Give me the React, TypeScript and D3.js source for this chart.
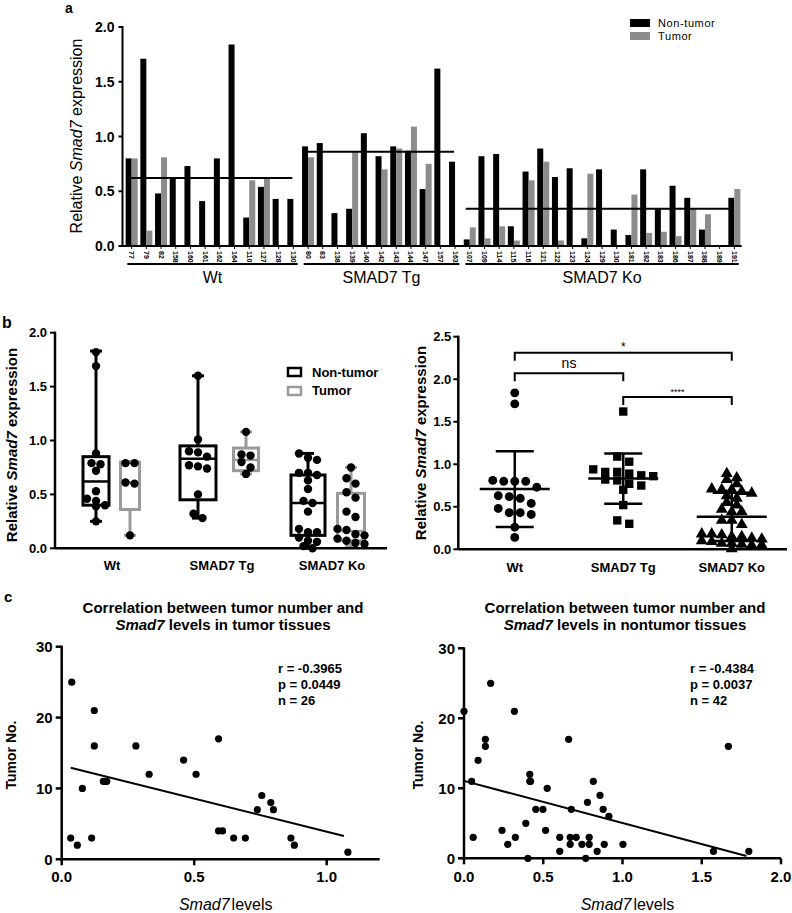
import React from "react";
import * as d3 from "d3";

const FONT = "'Liberation Sans', Arial, Helvetica, sans-serif";
const GRAY = "#8c8c8c";
const BOX_GRAY = "#9a9a9a";

// ---------------- Panel a data ----------------
const sampleIds = [
  "77", "79", "82", "158", "160", "161", "162", "164", "110", "127", "128", "130",
  "80", "83", "138", "139", "140", "142", "143", "144", "147", "157", "163",
  "107", "109", "114", "115", "116", "121", "122", "123", "124", "129", "130", "181", "182", "183", "186", "187", "188", "189", "191",
];
const groupNames = ["Wt", "SMAD7 Tg", "SMAD7 Ko"];
const groupSizes = [12, 11, 19];
const seriesNames = ["Non-tumor", "Tumor"];
const nonTumorExpr = [
  0.80, 1.71, 0.48, 0.63, 0.73, 0.41, 0.80, 1.84, 0.26, 0.54, 0.43, 0.43,
  0.91, 0.94, 0.30, 0.34, 1.03, 0.82, 0.91, 0.87, 0.52, 1.62, 0.77,
  0.06, 0.82, 0.84, 0.18, 0.68, 0.89, 0.63, 0.71, 0.07, 0.70, 0.15, 0.10, 0.70, 0.34, 0.55, 0.44, 0.15, 0.005, 0.44,
];
const tumorExpr: (number | null)[] = [
  0.80, 0.14, 0.81, null, null, null, null, null, 0.60, 0.62, null, null,
  0.81, null, null, 0.86, null, 0.70, 0.89, 1.09, 0.75, null, null,
  0.17, 0.07, 0.18, 0.05, 0.60, 0.77, 0.05, null, 0.66, null, null, 0.47, 0.12, 0.13, 0.09, 0.34, 0.29, null, 0.52,
];
const exprTicksA = [0, 0.5, 1, 1.5, 2];

// ---------------- Panel b (left) box plot data ----------------
const boxNonTumorPoints = [
  [1.82, 1.69, 0.88, 0.79, 0.78, 0.72, 0.53, 0.46, 0.44, 0.40, 0.39, 0.25],
  [1.60, 1.01, 0.90, 0.89, 0.85, 0.77, 0.76, 0.74, 0.50, 0.32, 0.28],
  [0.88, 0.84, 0.82, 0.70, 0.70, 0.68, 0.63, 0.55, 0.44, 0.42, 0.34, 0.18, 0.15, 0.15, 0.10, 0.07, 0.06, 0.02, 0.0],
];
const boxTumorPoints = [
  [0.79, 0.79, 0.61, 0.60, 0.12],
  [1.08, 0.87, 0.86, 0.80, 0.75, 0.69],
  [0.75, 0.65, 0.60, 0.52, 0.47, 0.34, 0.29, 0.18, 0.17, 0.13, 0.12, 0.09, 0.07, 0.05, 0.04],
];
// [min, q1, median, q3, max]
const boxNonTumorStats = [
  [0.25, 0.40, 0.62, 0.85, 1.83],
  [0.28, 0.45, 0.83, 0.95, 1.60],
  [0.0, 0.12, 0.42, 0.68, 0.88],
];
const boxTumorStats = [
  [0.12, 0.36, 0.61, 0.80, 0.80],
  [0.69, 0.72, 0.82, 0.93, 1.08],
  [0.02, 0.07, 0.16, 0.51, 0.75],
];
const exprTicksB = [0, 0.5, 1, 1.5, 2];

// ---------------- Panel b (right) ----------------
const exprTicksC = [0, 0.5, 1, 1.5, 2, 2.5];
const sigFrom = ["Wt", "Wt", "SMAD7 Tg"];
const sigTo = ["SMAD7 Ko", "SMAD7 Tg", "SMAD7 Ko"];
const sigLevel = [2.31, 2.07, 1.79];
const sigLabel = ["*", "ns", "****"];

// ---------------- Panel c data ----------------
const tumorLevels = [0.038, 0.034, 0.059, 0.078, 0.113, 0.123, 0.123, 0.157, 0.17, 0.28, 0.33, 0.46, 0.507, 0.592, 0.592, 0.607, 0.649, 0.693, 0.738, 0.755, 0.789, 0.799, 0.865, 0.878, 1.08, 0.165];
const tumorCounts = [25, 3, 2, 10, 3, 21, 16, 11, 11, 16, 12, 14, 12, 17, 4, 4, 3, 3, 7, 9, 8, 7, 3, 2, 1, 11];
const nontumorLevels = [0, 0.048, 0.058, 0.089, 0.135, 0.135, 0.168, 0.24, 0.276, 0.318, 0.324, 0.39, 0.403, 0.415, 0.415, 0.453, 0.498, 0.525, 0.515, 0.604, 0.604, 0.66, 0.677, 0.67, 0.67, 0.708, 0.744, 0.768, 0.779, 0.79, 0.79, 0.816, 0.84, 0.858, 0.878, 0.885, 0.914, 1.003, 1.574, 1.668, 1.797, 0.42];
const nontumorCounts = [21, 11, 3, 14, 17, 16, 25, 4, 2, 21, 3, 5, 0, 12, 11, 7, 7, 10, 4, 3, 1, 17, 7, 3, 2, 3, 2, 0, 8, 3, 2, 11, 1, 9, 7, 2, 6, 2, 1, 16, 1, 11];
const tumorStats = ["r = -0.3965", "p = 0.0449", "n = 26"];
const nontumorStats = ["r = -0.4384", "p = 0.0037", "n = 42"];
const countTicks = [0, 10, 20, 30];

// ---------------- helpers ----------------
function swarm(values: number[], py: (v: number) => number, spacing: number, rowH: number) {
  const pts = values.map((v) => ({ v, y: py(v) })).sort((a, b) => a.y - b.y);
  const rows: { v: number; y: number }[][] = [];
  for (const p of pts) {
    const r = rows[rows.length - 1];
    if (r && p.y - r[0].y < rowH) r.push(p);
    else rows.push([p]);
  }
  return rows.flatMap((r) => r.map((p, i) => ({ ...p, dx: (i - (r.length - 1) / 2) * spacing })));
}

function groupSlices() {
  const starts = [0, ...Array.from(d3.cumsum(groupSizes))];
  return groupNames.map((g, gi) => ({ g, s: starts[gi], e: starts[gi + 1] }));
}

function groupValues(gi: number) {
  const { s, e } = groupSlices()[gi];
  const nt = nonTumorExpr.slice(s, e);
  const t = tumorExpr.slice(s, e).filter((v): v is number => v != null);
  return [...nt, ...t];
}

const fmt1 = d3.format(".1f");

// ---------------- Panel a ----------------
function PanelA() {
  const x = d3.scaleBand<number>().domain(d3.range(sampleIds.length)).range([124.3, 741.7]);
  const y = d3.scaleLinear().domain([0, 2]).range([246, 27]);
  const bw = 6;
  const c = (i: number) => (x(i) as number) + x.bandwidth() / 2;
  const slices = groupSlices();
  const ax = 122.5;
  return (
    <g>
      <text x={65} y={13} fontSize={14} fontWeight="bold">a</text>
      {nonTumorExpr.map((v, i) => (
        <rect key={"n" + i} x={c(i) - bw} width={bw} y={y(v)} height={y(0) - y(v)} fill="#000" />
      ))}
      {tumorExpr.map((v, i) =>
        v == null ? null : <rect key={"t" + i} x={c(i)} width={bw} y={y(v)} height={y(0) - y(v)} fill={GRAY} />
      )}
      {slices.map((sl, gi) => {
        const m = d3.median(groupValues(gi)) as number;
        return <line key={"m" + gi} x1={c(sl.s) - 4} x2={c(sl.e - 1) - 1} y1={y(m)} y2={y(m)} stroke="#000" strokeWidth={2} />;
      })}
      <line x1={ax} x2={ax} y1={y(2) - 1} y2={y(0) + 1} stroke="#000" strokeWidth={2} />
      <line x1={ax} x2={x.range()[1]} y1={y(0)} y2={y(0)} stroke="#000" strokeWidth={2} />
      {exprTicksA.map((t) => (
        <g key={t}>
          <line x1={ax - 4} x2={ax} y1={y(t)} y2={y(t)} stroke="#000" strokeWidth={2} />
          <text x={ax - 8} y={y(t)} dy="0.36em" textAnchor="end" fontSize={14} fontWeight="bold">{fmt1(t)}</text>
        </g>
      ))}
      {sampleIds.map((id, i) => (
        <g key={"x" + i}>
          <line x1={c(i)} x2={c(i)} y1={y(0)} y2={y(0) + 3} stroke="#000" strokeWidth={1} />
          <text transform={`translate(${c(i)},${y(0) + 5}) rotate(90)`} dy="0.35em" fontSize={7} fontWeight="bold">{id}</text>
        </g>
      ))}
      {slices.map((sl, gi) => {
        const x0 = x(sl.s) as number;
        const x1 = (x(sl.e - 1) as number) + x.bandwidth();
        return (
          <g key={"g" + gi}>
            <line x1={x0 + 3} x2={x1 - 3} y1={264} y2={264} stroke="#000" strokeWidth={2} />
            <text x={(x0 + x1) / 2} y={283} textAnchor="middle" fontSize={16}>{sl.g}</text>
          </g>
        );
      })}
      <text transform="translate(82,136) rotate(-90)" textAnchor="middle" fontSize={16}>
        Relative <tspan fontStyle="italic">Smad7</tspan> expression
      </text>
      {seriesNames.map((s, i) => (
        <g key={s}>
          <rect x={630} y={19 + i * 13} width={20} height={8} fill={i === 0 ? "#000" : GRAY} />
          <text x={658} y={27 + i * 13} fontSize={11} letterSpacing={0.6}>{s}</text>
        </g>
      ))}
    </g>
  );
}

// ---------------- Panel b left ----------------
const BOX_OFF = [[-16, 18], [-24, 24], [-24, 19]];
const BOX_W = [[26, 19], [36, 25], [34, 27]];

function PanelBLeft() {
  const xg = d3.scaleBand<string>().domain(groupNames).range([57, 387]);
  const y = d3.scaleLinear().domain([0, 2]).range([548.3, 332.7]);
  const ax = 55;
  const series = [
    { pts: boxNonTumorPoints, st: boxNonTumorStats, col: "#000" },
    { pts: boxTumorPoints, st: boxTumorStats, col: BOX_GRAY },
  ];
  return (
    <g>
      <text x={2} y={328} fontSize={16} fontWeight="bold">b</text>
      {groupNames.map((g, gi) => {
        const gc = (xg(g) as number) + xg.bandwidth() / 2;
        return series.map((se, si) => {
          const cx = gc + BOX_OFF[gi][si];
          const w = BOX_W[gi][si];
          const [mn, q1, md, q3, mx] = se.st[gi];
          const sw = swarm(se.pts[gi], y, 9, 7);
          return (
            <g key={g + si}>
              <line x1={cx} x2={cx} y1={y(mx)} y2={y(q3)} stroke={se.col} strokeWidth={3} />
              <line x1={cx} x2={cx} y1={y(q1)} y2={y(mn)} stroke={se.col} strokeWidth={3} />
              <line x1={cx - 6} x2={cx + 6} y1={y(mx)} y2={y(mx)} stroke={se.col} strokeWidth={3} />
              <line x1={cx - 6} x2={cx + 6} y1={y(mn)} y2={y(mn)} stroke={se.col} strokeWidth={3} />
              <rect x={cx - w / 2} y={y(q3)} width={w} height={y(q1) - y(q3)} fill="none" stroke={se.col} strokeWidth={3} />
              <line x1={cx - w / 2} x2={cx + w / 2} y1={y(md)} y2={y(md)} stroke={se.col} strokeWidth={2.5} />
              {sw.map((p, k) => (
                <circle key={k} cx={cx + p.dx} cy={p.y} r={4.2} fill="#000" />
              ))}
            </g>
          );
        });
      })}
      <line x1={ax} x2={ax} y1={y(2) - 1} y2={y(0)} stroke="#000" strokeWidth={2.5} />
      <line x1={ax} x2={387} y1={y(0)} y2={y(0)} stroke="#000" strokeWidth={2.5} />
      {exprTicksB.map((t) => (
        <g key={t}>
          <line x1={ax - 5} x2={ax} y1={y(t)} y2={y(t)} stroke="#000" strokeWidth={2} />
          <text x={ax - 8} y={y(t)} dy="0.36em" textAnchor="end" fontSize={13} fontWeight="bold">{fmt1(t)}</text>
        </g>
      ))}
      {groupNames.map((g) => (
        <text key={g} x={(xg(g) as number) + xg.bandwidth() / 2} y={570} textAnchor="middle" fontSize={13} fontWeight="bold">{g}</text>
      ))}
      <text transform="translate(17,445) rotate(-90)" textAnchor="middle" fontSize={15} fontWeight="bold">
        Relative <tspan fontStyle="italic">Smad7</tspan> expression
      </text>
      {seriesNames.map((s, i) => (
        <g key={s}>
          <rect x={288} y={368 + i * 19} width={13} height={8} fill="none" stroke={i === 0 ? "#000" : BOX_GRAY} strokeWidth={2.5} />
          <text x={312} y={377 + i * 18} fontSize={13} fontWeight="bold">{s}</text>
        </g>
      ))}
    </g>
  );
}

// ---------------- Panel b right ----------------
function PanelBRight() {
  const xg = d3.scaleBand<string>().domain(groupNames).range([460.5, 786]);
  const y = d3.scaleLinear().domain([0, 2.5]).range([549.3, 336.7]);
  const ax = 458.3;
  const symbols = [d3.symbolCircle, d3.symbolSquare, d3.symbolTriangle];
  const sizes = [62, 70, 62];
  const spacings = [11, 12, 10];
  const rowHs = [8, 8, 5.5];
  const gc = (g: string) => (xg(g) as number) + xg.bandwidth() / 2;
  return (
    <g>
      {groupNames.map((g, gi) => {
        const vals = groupValues(gi);
        const mean = d3.mean(vals) as number;
        const sd = d3.deviation(vals) as number;
        const cx = gc(g);
        const path = d3.symbol(symbols[gi], sizes[gi])() as string;
        const sw = swarm(vals, y, spacings[gi], rowHs[gi]);
        return (
          <g key={g}>
            {sw.map((p, k) => (
              <path key={k} d={path} transform={`translate(${cx + p.dx},${p.y})`} fill="#000" />
            ))}
            <line x1={cx} x2={cx} y1={y(mean + sd)} y2={y(Math.max(0, mean - sd))} stroke="#000" strokeWidth={2.5} />
            <line x1={cx - 19} x2={cx + 19} y1={y(mean + sd)} y2={y(mean + sd)} stroke="#000" strokeWidth={2.5} />
            <line x1={cx - 19} x2={cx + 19} y1={y(Math.max(0, mean - sd))} y2={y(Math.max(0, mean - sd))} stroke="#000" strokeWidth={2.5} />
            <line x1={cx - 35} x2={cx + 35} y1={y(mean)} y2={y(mean)} stroke="#000" strokeWidth={2.5} />
          </g>
        );
      })}
      {sigLabel.map((lab, i) => {
        const x1 = gc(sigFrom[i]);
        const x2 = gc(sigTo[i]);
        const yy = y(sigLevel[i]);
        return (
          <g key={i}>
            <path d={`M${x1},${yy + 8}V${yy}H${x2}V${yy + 8}`} fill="none" stroke="#000" strokeWidth={2} />
            <text x={(x1 + x2) / 2} y={lab === "ns" ? yy - 5 : yy - 2} textAnchor="middle" fontSize={lab === "ns" ? 14 : lab === "*" ? 12 : 9}>{lab}</text>
          </g>
        );
      })}
      <line x1={ax} x2={ax} y1={y(2.5) - 1} y2={y(0)} stroke="#000" strokeWidth={2.5} />
      <line x1={ax} x2={787} y1={y(0)} y2={y(0)} stroke="#000" strokeWidth={2.5} />
      {exprTicksC.map((t) => (
        <g key={t}>
          <line x1={ax - 5} x2={ax} y1={y(t)} y2={y(t)} stroke="#000" strokeWidth={2} />
          <text x={ax - 7} y={y(t)} dy="0.36em" textAnchor="end" fontSize={13} fontWeight="bold">{fmt1(t)}</text>
        </g>
      ))}
      {groupNames.map((g) => (
        <text key={g} x={gc(g)} y={572} textAnchor="middle" fontSize={13} fontWeight="bold">{g}</text>
      ))}
      <text transform="translate(426,443) rotate(-90)" textAnchor="middle" fontSize={15} fontWeight="bold">
        Relative <tspan fontStyle="italic">Smad7</tspan> expression
      </text>
    </g>
  );
}

// ---------------- Panel c ----------------
function Corr(props: {
  xs: number[]; ys: number[]; xMax: number; xRange: [number, number]; yRange: [number, number];
  xTicks: number[]; titleX: number; tissue: string; stats: string[]; statX: number; ylabX: number;
}) {
  const { xs, ys, xMax, xRange, yRange, xTicks, titleX, tissue, stats, statX, ylabX } = props;
  const x = d3.scaleLinear().domain([0, xMax]).range(xRange);
  const y = d3.scaleLinear().domain([0, 30]).range(yRange);
  const mx = d3.mean(xs) as number;
  const my = d3.mean(ys) as number;
  const sxy = d3.sum(xs, (v, i) => (v - mx) * (ys[i] - my));
  const sxx = d3.sum(xs, (v) => (v - mx) ** 2);
  const b = sxy / sxx;
  const a = my - b * mx;
  const lx0 = d3.min(xs) as number;
  const lx1 = (d3.max(xs) as number) - 0.015;
  const ax = xRange[0];
  return (
    <g>
      <text x={titleX} y={613} textAnchor="middle" fontSize={15} fontWeight="bold">Correlation between tumor number and</text>
      <text x={titleX} y={630} textAnchor="middle" fontSize={15} fontWeight="bold">
        <tspan fontStyle="italic">Smad7</tspan> levels in {tissue} tissues
      </text>
      {xs.map((v, i) => (
        <circle key={i} cx={x(v)} cy={y(ys[i])} r={3.6} fill="#000" />
      ))}
      <line x1={x(lx0)} x2={x(lx1)} y1={y(a + b * lx0)} y2={y(a + b * lx1)} stroke="#000" strokeWidth={2} />
      <line x1={ax} x2={ax} y1={y(30) - 1} y2={y(0) + 1} stroke="#000" strokeWidth={2.5} />
      <line x1={ax} x2={xRange[1]} y1={y(0)} y2={y(0)} stroke="#000" strokeWidth={2.5} />
      {countTicks.map((t) => (
        <g key={t}>
          <line x1={ax - 6} x2={ax} y1={y(t)} y2={y(t)} stroke="#000" strokeWidth={2.5} />
          <text x={ax - 9} y={y(t)} dy="0.36em" textAnchor="end" fontSize={15} fontWeight="bold">{t}</text>
        </g>
      ))}
      {xTicks.map((t) => (
        <g key={t}>
          <line x1={x(t)} x2={x(t)} y1={y(0)} y2={y(0) + 6} stroke="#000" strokeWidth={2.5} />
          <text x={x(t)} y={882} textAnchor="middle" fontSize={15} fontWeight="bold">{fmt1(t)}</text>
        </g>
      ))}
      {stats.map((s, i) => (
        <text key={s} x={statX} y={673 + i * 16} fontSize={13} fontWeight="bold">{s}</text>
      ))}
      <text transform={`translate(${ylabX},755) rotate(-90)`} textAnchor="middle" fontSize={14} fontWeight="bold">Tumor No.</text>
      <text x={(xRange[0] + xRange[1]) / 2 + 5} y={910} textAnchor="middle" fontSize={16}>
        <tspan fontStyle="italic">Smad7</tspan><tspan dx={2}>levels</tspan>
      </text>
    </g>
  );
}

export default function App() {
  return (
    <svg
      width={792}
      height={913}
      viewBox="0 0 792 913"
      style={{ position: "absolute", left: 0, top: 0, background: "#fff" }}
      fontFamily={FONT}
    >
      <rect width={792} height={913} fill="#fff" />
      <PanelA />
      <PanelBLeft />
      <PanelBRight />
      <text x={4} y={602} fontSize={15} fontWeight="bold">c</text>
      <Corr xs={tumorLevels} ys={tumorCounts} xMax={1.2} xRange={[61.7, 379.7]} yRange={[859.3, 646.7]}
        xTicks={[0, 0.5, 1]} titleX={223} tissue="tumor" stats={tumorStats} statX={278} ylabX={16} />
      <Corr xs={nontumorLevels} ys={nontumorCounts} xMax={2} xRange={[464, 781]} yRange={[858.3, 648.3]}
        xTicks={[0, 0.5, 1, 1.5, 2]} titleX={625} tissue="nontumor" stats={nontumorStats} statX={690} ylabX={423} />
    </svg>
  );
}
